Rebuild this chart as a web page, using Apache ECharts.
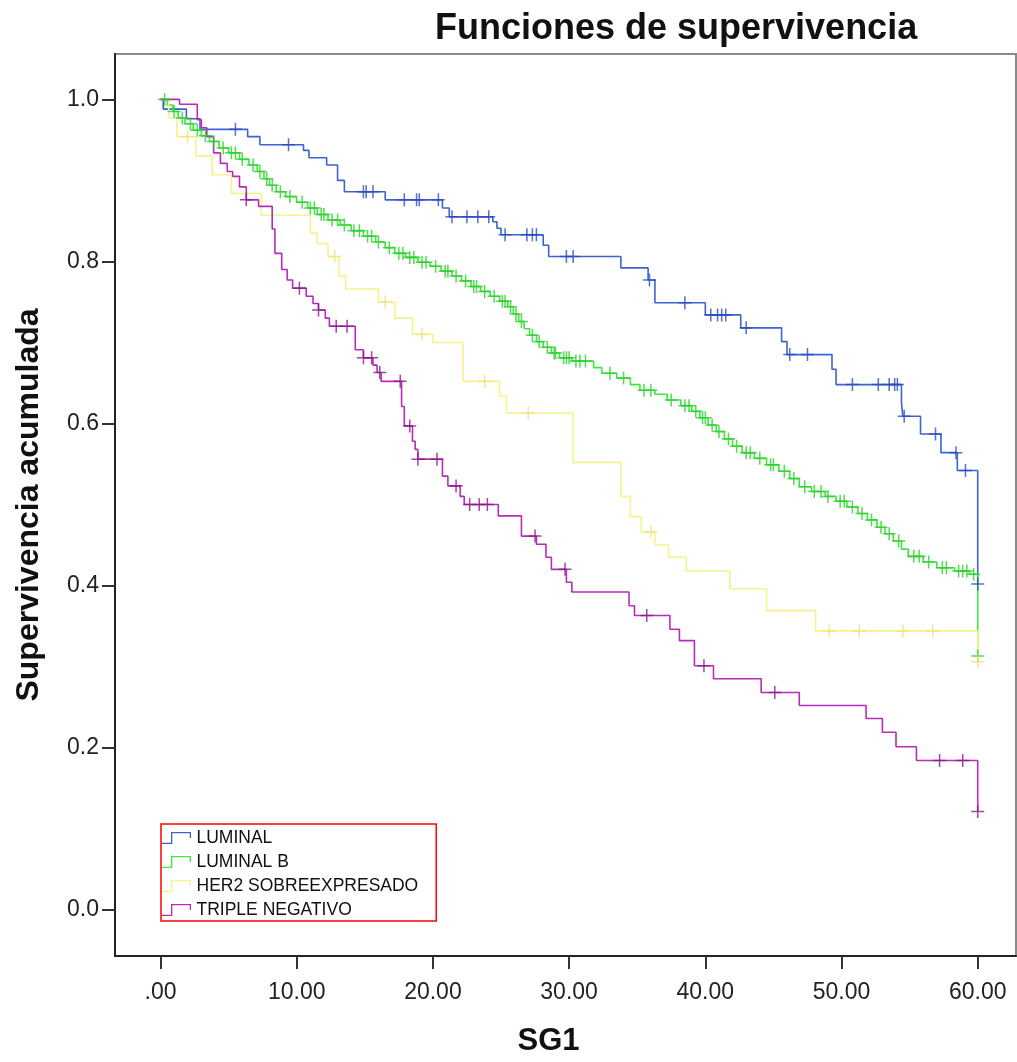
<!DOCTYPE html>
<html>
<head>
<meta charset="utf-8">
<script src="https://cdn.jsdelivr.net/npm/echarts@6/dist/echarts.min.js"></script>
<style>
html,body{margin:0;padding:0;background:#fff;}
#chart{width:1017px;height:1062px;}
</style>
</head>
<body>
<div id="chart"></div>
<script>
// ---- data ----
const seriesNames = ['LUMINAL', 'LUMINAL B', 'HER2 SOBREEXPRESADO', 'TRIPLE NEGATIVO'];
const xTickValues = [0, 10, 20, 30, 40, 50, 60];
const xTickLabels = ['.00', '10.00', '20.00', '30.00', '40.00', '50.00', '60.00'];
const yTickValues = [0, 0.2, 0.4, 0.6, 0.8, 1.0];
const yTickLabels = ['0.0', '0.2', '0.4', '0.6', '0.8', '1.0'];

// Kaplan-Meier steps: [time, survival after event]
const luminalSteps = [[0,1],[0.2,0.988],[1.9,0.976],[2.9,0.963],[6.4,0.954],[7.3,0.944],[10.5,0.937],[10.9,0.928],[12.2,0.919],[13.0,0.90],[13.5,0.886],[16.5,0.876],[20.7,0.866],[21.2,0.855],[24.4,0.849],[24.7,0.841],[25.0,0.833],[28.1,0.82],[28.5,0.806],[33.8,0.792],[35.8,0.777],[36.3,0.749],[40.0,0.734],[42.6,0.718],[45.6,0.701],[46.0,0.685],[49.3,0.667],[49.6,0.648],[54.4,0.626],[54.5,0.609],[55.8,0.587],[57.3,0.564],[58.5,0.542],[60,0.402]];
const luminalCensored = [5.5,9.4,14.9,15.1,15.6,17.9,18.8,19.0,20.4,21.4,22.5,23.3,24.1,25.3,26.9,27.3,27.6,29.8,30.3,35.9,38.5,40.4,40.9,41.2,41.5,43.0,46.2,47.5,50.8,52.7,53.5,53.9,54.1,54.6,56.9,58.4,59.1,60];

const luminalBSteps = [[0,1],[0.5,0.993],[0.9,0.985],[1.3,0.977],[1.8,0.97],[2.4,0.962],[3.0,0.955],[3.6,0.948],[4.3,0.94],[5.0,0.934],[5.8,0.926],[6.5,0.919],[7.1,0.911],[7.6,0.902],[8.0,0.894],[8.5,0.886],[9.2,0.88],[10.0,0.873],[10.8,0.866],[11.5,0.858],[12.3,0.851],[13.2,0.845],[14.0,0.838],[14.9,0.831],[15.8,0.824],[16.5,0.817],[17.2,0.81],[18.0,0.805],[18.9,0.799],[19.8,0.794],[20.6,0.788],[21.4,0.782],[22.1,0.776],[22.8,0.769],[23.5,0.763],[24.2,0.757],[24.9,0.751],[25.5,0.744],[25.9,0.735],[26.3,0.726],[26.7,0.717],[27.1,0.709],[27.6,0.701],[28.1,0.694],[28.7,0.687],[29.3,0.681],[30.2,0.677],[31.8,0.669],[32.4,0.662],[33.5,0.656],[34.5,0.648],[35.2,0.641],[36.3,0.636],[37.2,0.629],[38.2,0.622],[39.0,0.615],[39.6,0.607],[40.2,0.598],[40.8,0.59],[41.4,0.581],[42.0,0.572],[42.7,0.564],[43.6,0.557],[44.5,0.549],[45.4,0.541],[46.2,0.532],[46.9,0.522],[47.8,0.516],[48.8,0.51],[49.6,0.504],[50.4,0.497],[51.2,0.489],[51.9,0.481],[52.6,0.472],[53.2,0.464],[53.8,0.455],[54.4,0.445],[54.9,0.436],[56.0,0.429],[57.0,0.422],[58.3,0.418],[59.4,0.414],[60,0.313]];
const luminalBCensored = [0.3,1.0,1.6,2.2,2.7,3.3,3.9,4.6,5.2,5.5,6.0,6.8,7.3,7.8,8.2,8.8,9.5,10.4,11.0,11.3,11.8,12.0,12.6,13.0,13.5,14.2,14.6,15.2,15.5,16.0,16.8,17.5,17.8,18.3,18.6,19.2,19.5,20.2,20.9,21.1,21.7,22.4,23.0,23.2,23.8,24.5,25.1,25.3,25.7,26.1,26.5,27.3,27.8,28.4,28.9,29.0,29.6,29.8,30.0,30.5,30.8,31.2,33.0,34.0,35.5,36.0,37.5,38.5,38.8,39.3,39.8,40.0,40.5,41.0,41.7,42.3,43.0,43.3,44.0,44.8,45.0,45.8,46.5,47.3,48.0,48.5,49.0,49.9,50.2,50.8,51.5,52.2,52.9,53.5,54.2,55.3,55.7,56.4,57.4,57.7,58.6,58.9,59.2,59.7,60];

const her2Steps = [[0,1],[0.6,0.977],[1.2,0.954],[2.6,0.93],[3.8,0.907],[5.2,0.884],[7.4,0.857],[11.0,0.835],[11.5,0.822],[12.3,0.806],[13.1,0.782],[13.6,0.766],[16.0,0.75],[17.2,0.73],[18.5,0.71],[20.0,0.70],[22.2,0.652],[24.9,0.634],[25.4,0.613],[30.3,0.552],[33.8,0.51],[34.5,0.485],[35.3,0.466],[36.3,0.45],[37.3,0.435],[38.6,0.418],[41.8,0.396],[44.5,0.369],[48.1,0.344],[60,0.306]];
const her2Censored = [2.0,12.8,16.5,19.2,23.8,27.0,36.0,49.1,51.3,54.5,56.7,60];

const tripleSteps = [[0,1],[1.4,0.994],[2.7,0.975],[3.0,0.965],[3.4,0.954],[3.9,0.934],[4.4,0.921],[4.9,0.911],[5.3,0.905],[5.8,0.892],[6.3,0.876],[7.2,0.868],[8.2,0.84],[8.4,0.81],[8.9,0.79],[9.3,0.777],[9.7,0.767],[10.7,0.757],[11.2,0.748],[11.6,0.74],[12.1,0.73],[12.4,0.72],[14.3,0.691],[14.9,0.681],[15.6,0.672],[15.9,0.663],[16.2,0.652],[17.7,0.621],[17.9,0.597],[18.5,0.578],[18.7,0.568],[18.9,0.556],[20.7,0.535],[21.1,0.523],[22.0,0.51],[22.3,0.50],[24.8,0.486],[26.5,0.461],[27.6,0.451],[28.3,0.435],[28.7,0.42],[29.8,0.404],[30.2,0.392],[34.4,0.375],[34.8,0.363],[37.4,0.346],[38.1,0.332],[39.2,0.301],[40.6,0.285],[44.1,0.268],[46.9,0.252],[51.8,0.236],[53.0,0.219],[54.0,0.201],[55.5,0.184],[60,0.121]];
const tripleCensored = [6.3,10.2,11.6,12.9,13.7,14.9,15.5,16.1,17.6,18.3,18.9,20.3,21.7,22.7,23.4,24.0,27.5,29.7,35.7,39.9,45.1,57.2,58.9,60];

// ---- styles ----
const lineColors = ['#3d62d4', '#3ee83e', '#f6f28e', '#b82cb8'];
const markColors = ['#2a4cc0', '#2fcf2f', '#eee27a', '#8a1a8a'];

function survivalAt(steps, t) {
  let s = steps[0][1];
  for (const p of steps) { if (p[0] <= t) s = p[1]; else break; }
  return s;
}
const allSteps = [luminalSteps, luminalBSteps, her2Steps, tripleSteps];
const allCensored = [luminalCensored, luminalBCensored, her2Censored, tripleCensored];

const plusPath = 'path://M5.3,0h1.4v5.3h5.3v1.4h-5.3v5.3h-1.4v-5.3h-5.3v-1.4h5.3z';
const stepIcon = 'path://M0,10.7 L9,10.7 L9,0 L29,0 L29,6 L27.7,6 L27.7,1.3 L10.3,1.3 L10.3,12 L0,12 Z';

const series = [];
seriesNames.forEach((name, i) => {
  series.push({
    name: name, type: 'line', step: 'end', data: allSteps[i],
    showSymbol: false, symbol: 'none', silent: true, animation: false,
    lineStyle: { color: lineColors[i], width: 1.6 },
    itemStyle: { color: lineColors[i] }, z: 2
  });
});
seriesNames.forEach((name, i) => {
  series.push({
    name: name + ' (censurado)', type: 'scatter',
    data: allCensored[i].map(t => [t, survivalAt(allSteps[i], t)]),
    symbol: plusPath, symbolSize: 13, silent: true, animation: false,
    itemStyle: { color: markColors[i] }, z: 3
  });
});

const chart = echarts.init(document.getElementById('chart'), null, { renderer: 'canvas' });
const FONT = '"Liberation Sans", Arial, sans-serif';
chart.setOption({
  backgroundColor: '#ffffff',
  animation: false,
  title: {
    text: 'Funciones de supervivencia', left: 430, top: 6,
    textStyle: { fontFamily: FONT, fontWeight: 'bold', fontSize: 36, color: '#111' }
  },
  legend: {
    data: seriesNames, orient: 'vertical', left: 161, top: 824,
    padding: [5, 18, 2, 1], borderColor: '#ff0000', borderWidth: 1.5,
    itemGap: 6, itemWidth: 30, itemHeight: 12, icon: stepIcon,
    selectedMode: false,
    textStyle: { fontFamily: FONT, fontSize: 17.5, color: '#111' }
  },
  grid: {
    left: 115, right: 1, top: 54, bottom: 103, show: true,
    borderColor: '#8a8a8a', borderWidth: 2, backgroundColor: '#ffffff'
  },
  xAxis: {
    type: 'value', min: -3.34, max: 62.81,
    name: 'SG1', nameLocation: 'middle', nameGap: 70,
    nameTextStyle: { fontFamily: FONT, fontWeight: 'bold', fontSize: 31, color: '#111', padding: [0, 34, 0, 0] },
    axisLine: { onZero: false, lineStyle: { color: '#222', width: 2 } },
    axisTick: { show: true, length: 13, customValues: xTickValues, lineStyle: { color: '#333', width: 2 } },
    axisLabel: {
      customValues: xTickValues, margin: 25,
      formatter: v => xTickLabels[xTickValues.indexOf(Math.round(v))],
      fontFamily: FONT, fontSize: 23, color: '#222'
    },
    splitLine: { show: false }
  },
  yAxis: {
    type: 'value', min: -0.0572, max: 1.056,
    name: 'Supervivencia acumulada', nameLocation: 'middle', nameGap: 70, nameRotate: 90,
    nameTextStyle: { fontFamily: FONT, fontWeight: 'bold', fontSize: 32, color: '#111' },
    axisLine: { onZero: false, lineStyle: { color: '#222', width: 2 } },
    axisTick: { show: true, length: 13, customValues: yTickValues, lineStyle: { color: '#333', width: 2 } },
    axisLabel: {
      customValues: yTickValues, margin: 16,
      formatter: v => yTickLabels[yTickValues.indexOf(Math.round(v * 10) / 10)],
      fontFamily: FONT, fontSize: 23, color: '#222'
    },
    splitLine: { show: false }
  },
  series: series
});
</script>
</body>
</html>
